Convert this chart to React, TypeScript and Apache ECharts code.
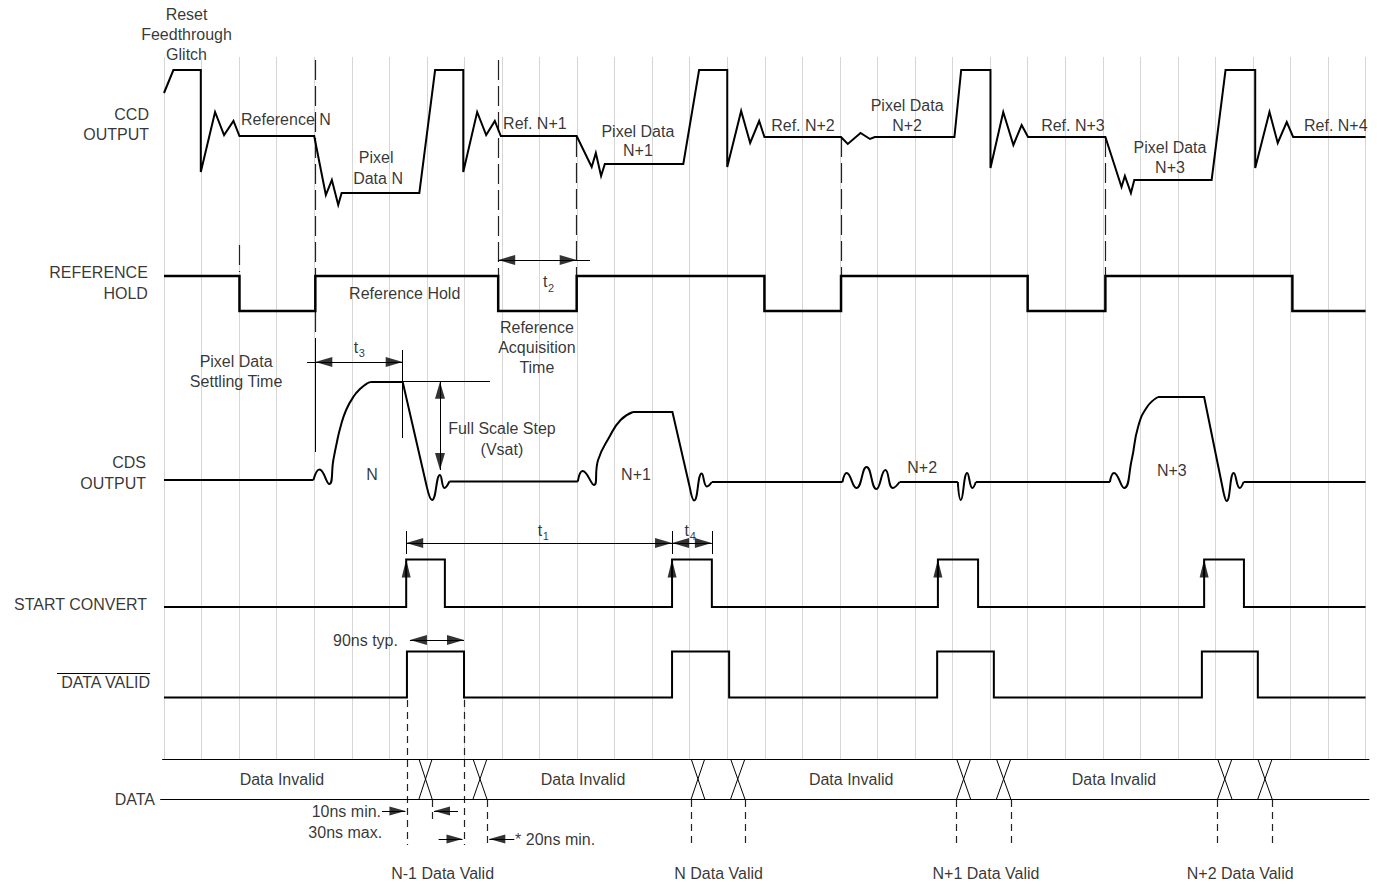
import React, { useEffect, useRef } from "react";
import * as echarts from "echarts";

// ---- time axis: 1 unit = one vertical grid division ----
const GRID_LEFT_PX = 164;
const UNIT_PX = 37.55;
const DIVISIONS = 32;
const PAGE_W = 1377;
const PAGE_H = 886;

type P = [number, number];

// CCD OUTPUT waveform [time, level]
const ccdOutput: P[] = [
  [0, 93], [0.25, 70], [0.98, 70], [0.98, 172], [1.36, 112], [1.6, 135], [1.85, 121], [2.01, 136],
  [4.0, 136], [4.31, 195], [4.47, 180], [4.64, 205], [4.73, 193], [6.8, 193], [7.22, 70], [7.97, 70], [7.97, 172],
  [8.34, 112], [8.58, 135], [8.81, 121], [8.97, 136],
  [10.99, 136], [11.39, 167], [11.5, 153], [11.64, 176], [11.74, 164], [13.83, 164], [14.25, 70], [15.0, 70], [15.0, 167],
  [15.37, 111], [15.61, 143], [15.85, 121], [15.99, 137],
  [18.03, 137], [18.21, 144], [18.55, 133], [18.8, 139], [18.93, 137],
  [21.05, 137], [21.23, 70], [22.01, 70], [22.01, 168], [22.35, 112], [22.62, 145], [22.84, 125], [23.01, 137],
  [25.07, 137], [25.5, 187], [25.59, 176], [25.75, 193], [25.84, 180], [27.9, 180], [28.27, 70], [29.06, 70], [29.06, 168],
  [29.44, 112], [29.66, 143], [29.9, 122], [30.07, 137], [32, 137],
];

// REFERENCE HOLD
const referenceHold: P[] = [
  [0, 276], [2.01, 276], [2.01, 311], [4.03, 311], [4.03, 276], [8.9, 276], [8.9, 311], [10.99, 311], [10.99, 276],
  [15.99, 276], [15.99, 311], [18.03, 311], [18.03, 276], [23.0, 276], [23.0, 311], [25.07, 311], [25.07, 276],
  [30.05, 276], [30.05, 311], [32, 311],
];

// CDS OUTPUT: straight pieces and curved pieces
const cdsStraight: P[][] = [
  [[0, 480], [3.98, 480]],
  [[5.51, 382], [6.357, 382], [7.0, 487]],
  [[7.6, 481.5], [11.02, 481.5]],
  [[12.49, 412], [13.54, 412], [14.0, 487]],
  [[14.59, 482], [18.07, 482]],
  [[19.59, 482], [21.14, 482]],
  [[21.62, 482], [25.19, 482]],
  [[26.47, 397], [27.7, 397], [28.22, 493]],
  [[28.75, 482], [32, 482]],
];
const cdsCurves: P[][] = [
  [[3.98, 480], [4.14, 469.5], [4.4, 484], [4.51, 460], [4.6, 443], [4.7, 427], [4.85, 410], [5.04, 397], [5.25, 388], [5.43, 383], [5.51, 382]],
  [[7.0, 487], [7.14, 500], [7.35, 475], [7.47, 488], [7.6, 481.5]],
  [[11.02, 481.5], [11.15, 471], [11.45, 485], [11.56, 460], [11.86, 437], [12.16, 420], [12.49, 412]],
  [[14.0, 487], [14.12, 500.5], [14.32, 473.5], [14.46, 486.5], [14.59, 482]],
  [[18.07, 482], [18.18, 473], [18.44, 488], [18.71, 467], [18.97, 489], [19.21, 470], [19.41, 488], [19.59, 482]],
  [[21.14, 482], [21.22, 500], [21.39, 473], [21.53, 488], [21.62, 482]],
  [[25.19, 482], [25.3, 473], [25.57, 488], [25.77, 460], [25.94, 427], [26.18, 407], [26.47, 397]],
  [[28.22, 493], [28.3, 501], [28.49, 473], [28.65, 488], [28.75, 482]],
];

// START CONVERT and DATA VALID
const startConvert: P[] = [
  [0, 607], [6.45, 607], [6.45, 559.5], [7.48, 559.5], [7.48, 607], [13.53, 607], [13.53, 559.5], [14.59, 559.5], [14.59, 607],
  [20.61, 607], [20.61, 559.5], [21.68, 559.5], [21.68, 607], [27.7, 607], [27.7, 559.5], [28.76, 559.5], [28.76, 607], [32, 607],
];
const dataValid: P[] = [
  [0, 697.5], [6.47, 697.5], [6.47, 651.5], [7.99, 651.5], [7.99, 697.5], [13.53, 697.5], [13.53, 651.5], [15.05, 651.5], [15.05, 697.5],
  [20.59, 697.5], [20.59, 651.5], [22.1, 651.5], [22.1, 697.5], [27.64, 697.5], [27.64, 651.5], [29.13, 651.5], [29.13, 697.5], [32, 697.5],
];
const startConvertEdges: number[] = [6.45, 13.53, 20.61, 27.7];

// DATA bus crossings (start, end)
const dataCrossings: P[] = [
  [6.79, 7.14], [8.23, 8.6], [14.04, 14.4], [15.09, 15.47], [21.11, 21.48], [22.17, 22.55], [28.06, 28.44], [29.13, 29.51],
];
const busTop = 759;
const busBottom = 799;

// dashed markers [time, from, to]
const waveDashed: [number, number, number][] = [
  [2.01, 245, 272], [4.03, 60, 276], [4.03, 312, 338], [8.9, 60, 276], [10.99, 137, 276], [18.03, 137, 276], [25.07, 137, 276],
];
const dataDashed: [number, number, number][] = [
  [6.49, 700, 845], [7.99, 700, 845], [7.14, 800, 822], [8.6, 800, 847],
  [14.04, 800, 845], [15.47, 800, 845], [21.11, 800, 845], [22.55, 800, 845], [28.06, 800, 845], [29.51, 800, 845],
];

// thin annotation lines [t1, y1, t2, y2]
const annotationLines: [number, number, number, number][] = [
  [8.9, 260, 11.345, 260],
  [3.81, 362, 6.357, 362],
  [4.03, 338, 4.03, 452],
  [6.357, 350, 6.357, 438],
  [6.357, 381.7, 8.68, 381.7],
  [7.35, 381.7, 7.35, 470],
  [6.45, 543, 14.59, 543],
  [6.45, 531, 6.45, 554], [13.53, 531, 13.53, 554], [14.59, 531, 14.59, 554],
  [6.55, 640, 7.99, 640],
  [5.806, 811, 6.429, 811], [7.19, 811, 7.83, 811], [7.313, 839, 7.949, 839], [8.663, 839, 9.329, 839],
  [-0.05, busTop, 32.1, busTop], [-0.1, busBottom, 32.1, busBottom],
  [-2.85, 673, -0.37, 673],
];

// arrow heads [time, level, direction, width, length]
const arrowHeads: [number, number, "U" | "D" | "L" | "R", number, number][] = [
  [8.9, 260, "L", 10, 17], [10.99, 260, "R", 10, 17],
  [4.03, 362, "L", 10, 17], [6.357, 362, "R", 10, 17],
  [7.35, 381.7, "U", 10, 17], [7.35, 470, "D", 10, 17],
  [6.45, 543, "L", 10, 17], [13.53, 543, "R", 10, 17], [13.53, 543, "L", 10, 17], [14.59, 543, "R", 10, 17],
  [6.55, 640, "L", 10, 17], [7.99, 640, "R", 10, 17],
  [6.429, 811, "R", 9, 16], [7.19, 811, "L", 9, 16], [7.949, 839, "R", 9, 16], [8.663, 839, "L", 9, 16],
  ...startConvertEdges.map((t) => [t, 559.5, "U", 9, 18] as [number, number, "U", number, number]),
];

// text labels [text, time, level, align, fontSize?]
const labels: [string, number, number, "left" | "center" | "right", number?][] = [
  ["Reset", 0.6, 14, "center"],
  ["Feedthrough", 0.6, 34, "center"],
  ["Glitch", 0.6, 54, "center"],
  ["CCD", -0.4, 114, "right"],
  ["OUTPUT", -0.4, 134, "right"],
  ["REFERENCE", -0.43, 272, "right"],
  ["HOLD", -0.43, 293, "right"],
  ["CDS", -0.48, 462, "right"],
  ["OUTPUT", -0.48, 483, "right"],
  ["START CONVERT", -0.45, 604, "right"],
  ["DATA VALID", -0.37, 682, "right"],
  ["DATA", -0.24, 799, "right"],
  ["Reference N", 2.05, 119, "left"],
  ["Pixel", 5.65, 157, "center"],
  ["Data N", 5.7, 178, "center"],
  ["Ref. N+1", 9.03, 123, "left"],
  ["Pixel Data", 12.62, 131, "center"],
  ["N+1", 12.62, 150, "center"],
  ["Ref. N+2", 16.17, 125, "left"],
  ["Pixel Data", 19.79, 105, "center"],
  ["N+2", 19.79, 125, "center"],
  ["Ref. N+3", 23.36, 125, "left"],
  ["Pixel Data", 26.79, 147, "center"],
  ["N+3", 26.79, 167, "center"],
  ["Ref. N+4", 30.36, 125, "left"],
  ["Reference Hold", 6.41, 293, "center"],
  ["t", 10.15, 281, "center"], ["2", 10.31, 288, "center", 11],
  ["Reference", 9.93, 327, "center"],
  ["Acquisition", 9.93, 347, "center"],
  ["Time", 9.93, 367, "center"],
  ["Pixel Data", 1.92, 361, "center"],
  ["Settling Time", 1.92, 381, "center"],
  ["t", 5.11, 347, "center"], ["3", 5.27, 353, "center", 11],
  ["Full Scale Step", 9.0, 428, "center"],
  ["(Vsat)", 9.0, 449, "center"],
  ["N", 5.54, 474, "center"],
  ["N+1", 12.57, 474, "center"],
  ["N+2", 20.19, 467, "center"],
  ["N+3", 26.84, 470, "center"],
  ["t", 10.01, 530, "center"], ["1", 10.17, 536, "center", 11],
  ["t", 13.92, 530, "center"], ["4", 14.08, 536, "center", 11],
  ["90ns typ.", 6.23, 640, "right"],
  ["Data Invalid", 3.14, 779, "center"],
  ["Data Invalid", 11.16, 779, "center"],
  ["Data Invalid", 18.3, 779, "center"],
  ["Data Invalid", 25.3, 779, "center"],
  ["10ns min.", 5.78, 811, "right"],
  ["30ns max.", 5.81, 832, "right"],
  ["* 20ns min.", 9.35, 839, "left"],
  ["N-1 Data Valid", 7.42, 873, "center"],
  ["N Data Valid", 14.77, 873, "center"],
  ["N+1 Data Valid", 21.89, 873, "center"],
  ["N+2 Data Valid", 28.66, 873, "center"],
];

const FONT = "'Liberation Sans', Arial, Helvetica, sans-serif";
const AX = { xAxisIndex: 1, yAxisIndex: 1 };

function wave(data: P[], width: number, smooth = 0) {
  return {
    type: "line",
    ...AX,
    data,
    smooth,
    showSymbol: false,
    symbol: "none",
    silent: true,
    lineStyle: { color: "#000", width, join: "miter", cap: "butt" },
    z: 3,
  };
}

export default function App() {
  const ref = useRef<HTMLDivElement>(null);
  useEffect(() => {
    if (!ref.current) return;
    const chart = echarts.init(ref.current, undefined, { renderer: "svg" });
    const rot = { U: 0, L: 90, D: 180, R: -90 };
    const off = (d: string, h: number) =>
      d === "U" ? [0, h / 2] : d === "D" ? [0, -h / 2] : d === "L" ? [h / 2, 0] : [-h / 2, 0];

    const option: any = {
      animation: false,
      backgroundColor: "#fff",
      grid: [
        { left: GRID_LEFT_PX, top: 57, width: DIVISIONS * UNIT_PX, height: 702, outerBoundsMode: "none" },
        { left: 0, top: 0, width: PAGE_W, height: PAGE_H, outerBoundsMode: "none" },
      ],
      xAxis: [
        {
          gridIndex: 0, type: "value", min: 0, max: DIVISIONS, interval: 1,
          axisLine: { show: false }, axisTick: { show: false }, axisLabel: { show: false },
          splitLine: { show: true, lineStyle: { color: "#d6d6d6", width: 1 } },
        },
        {
          gridIndex: 1, type: "value", min: -GRID_LEFT_PX / UNIT_PX, max: (PAGE_W - GRID_LEFT_PX) / UNIT_PX,
          show: false, splitLine: { show: false },
        },
      ],
      yAxis: [
        { gridIndex: 0, type: "value", min: 0, max: 1, show: false, splitLine: { show: false } },
        { gridIndex: 1, type: "value", min: 0, max: PAGE_H, inverse: true, show: false, splitLine: { show: false } },
      ],
      series: [
        wave(ccdOutput, 2),
        wave(referenceHold, 2.5),
        ...cdsStraight.map((d) => wave(d, 2)),
        ...cdsCurves.map((d) => wave(d, 2, 0.5)),
        wave(startConvert, 2),
        wave(dataValid, 2),
        {
          type: "lines", coordinateSystem: "cartesian2d", ...AX, silent: true, z: 2,
          lineStyle: { color: "#222", width: 1.2, type: [20, 6], opacity: 1 },
          data: waveDashed.map(([t, a, b]) => ({ coords: [[t, a], [t, b]] })),
        },
        {
          type: "lines", coordinateSystem: "cartesian2d", ...AX, silent: true, z: 2,
          lineStyle: { color: "#222", width: 1.2, type: [7, 5], opacity: 1 },
          data: dataDashed.map(([t, a, b]) => ({ coords: [[t, a], [t, b]] })),
        },
        {
          type: "lines", coordinateSystem: "cartesian2d", ...AX, silent: true, z: 3,
          lineStyle: { color: "#000", width: 1, opacity: 1 },
          data: [
            ...annotationLines.map(([t1, y1, t2, y2]) => ({ coords: [[t1, y1], [t2, y2]] })),
            ...dataCrossings.flatMap(([a, b]) => [
              { coords: [[a, busTop], [b, busBottom]] },
              { coords: [[b, busTop], [a, busBottom]] },
            ]),
          ],
        },
        {
          type: "scatter", ...AX, silent: true, z: 4, symbol: "triangle",
          itemStyle: { color: "#000" },
          data: arrowHeads.map(([t, y, d, w, h]) => ({
            value: [t, y],
            symbolSize: [w, h],
            symbolRotate: rot[d],
            symbolOffset: off(d, h),
          })),
        },
        {
          type: "scatter", ...AX, silent: true, z: 5, symbolSize: 1,
          itemStyle: { color: "rgba(0,0,0,0)" },
          label: {
            show: true, position: "inside", formatter: "{b}", color: "#000",
            fontFamily: FONT, fontSize: 16, verticalAlign: "middle",
          },
          data: labels.map(([text, t, y, align, size]) => ({
            name: text,
            value: [t, y],
            label: { align, fontSize: size ?? 16 },
          })),
        },
      ],
    };
    chart.setOption(option);
    return () => chart.dispose();
  }, []);
  return (
    <div
      ref={ref}
      style={{ position: "fixed", left: 0, top: 0, width: PAGE_W, height: PAGE_H, background: "#fff" }}
    />
  );
}
